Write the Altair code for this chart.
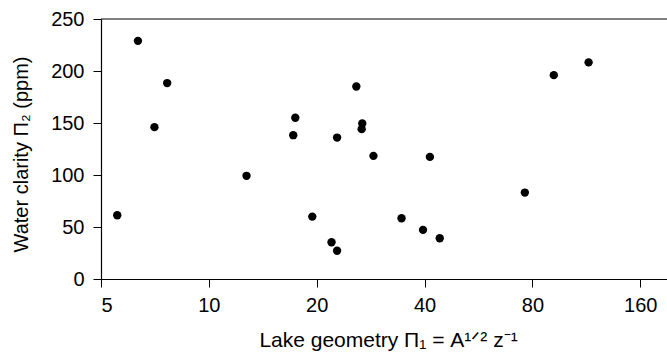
import altair as alt
import pandas as pd

geometry = [5.55, 6.34, 7.65, 7.05, 12.74, 17.43, 17.2, 19.44, 22.0, 22.8, 22.8,
            25.8, 26.8, 26.7, 28.8, 34.5, 41.4, 39.6, 44.1, 76.2, 91.8, 114.8]
clarity = [61.3, 229, 188.4, 146, 99.2, 155, 138.3, 60, 35.3, 27.2, 136,
           185.1, 149.5, 144.1, 118.4, 58.4, 117.4, 47.2, 39.2, 83.1, 196, 208.3]
x_ticks = [5, 10, 20, 40, 80, 160]
y_ticks = [0, 50, 100, 150, 200, 250]

df = pd.DataFrame({"g": geometry, "c": clarity})

FONT = "Liberation Sans"
XMAX = 190

common = dict(grid=False, domainColor="black", domainWidth=1.2, tickColor="black", tickSize=8,
              tickWidth=1, labelFont=FONT, titleFont=FONT, labelFontSize=20,
              labelColor="black", titleColor="black", titleFontWeight="normal")

x_enc = alt.X("g:Q", scale=alt.Scale(type="log", domain=[5, XMAX], nice=False),
              axis=alt.Axis(values=x_ticks, format="d", title="Lake geometry Π₁ = A¹ᐟ² z⁻¹",
                            titleFontSize=21, titlePadding=14, labelPadding=8, titleX=287,
                            **common))
y_enc = alt.Y("c:Q", scale=alt.Scale(domain=[0, 250], nice=False),
              axis=alt.Axis(values=y_ticks, title="Water clarity Π₂ (ppm)", titleFontSize=20,
                            titlePadding=19, labelPadding=9, titleY=135, **common))

points = alt.Chart(df).mark_circle(size=70, color="black", opacity=1).encode(x=x_enc, y=y_enc)

top_line = alt.Chart(pd.DataFrame({"a": [0]})).mark_rule(color="black", strokeWidth=1.2).encode(
    x=alt.datum(5), x2=alt.datum(XMAX), y=alt.datum(250)
)

chart = alt.layer(points, top_line).properties(
    width=566, height=260,
    autosize=alt.AutoSizeParams(type="none"),
    padding={"left": 101, "top": 19, "right": 0, "bottom": 73},
).configure_view(stroke=None)

chart.save("out.html", embed_options={"renderer": "svg", "actions": False})
